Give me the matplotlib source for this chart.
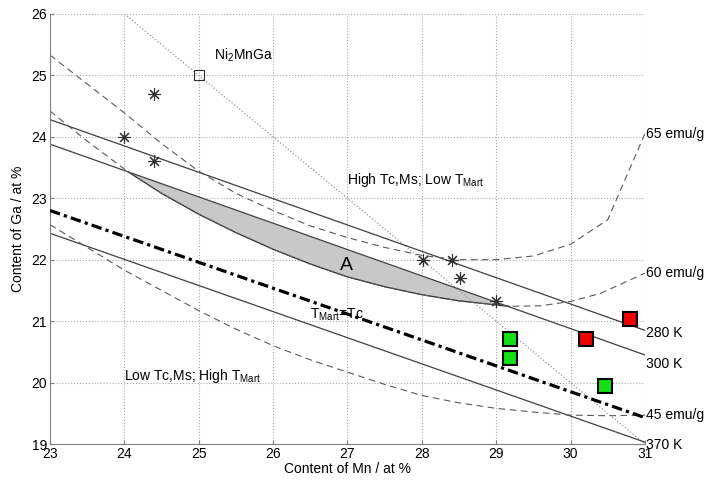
import numpy as np
import matplotlib
matplotlib.use("Agg")
import matplotlib.pyplot as plt

# straight lines (Curie / martensite temperatures), given at x = 23 and 31
line_x = [23, 31]
k280 = [24.28, 20.85]
k300 = [23.88, 20.45]
k370 = [22.43, 19.03]
tmart_tc = [22.80, 19.43]

# stoichiometric line through Ni2MnGa
stoich_x = [24, 31]
stoich_y = [26, 19]

# magnetisation contours
m65_x = [23, 23.5, 24, 24.5, 25, 25.5, 26, 26.5, 27, 27.5, 28, 28.5, 29, 29.5, 30, 30.5, 31]
m65_y = [25.33, 24.86, 24.39, 23.89, 23.44, 23.08, 22.8, 22.55, 22.36, 22.2, 22.07, 22.0, 22.0, 22.06, 22.25, 22.65, 24.05]
m60_x = [23, 23.5, 24.05, 24.5, 25, 25.5, 26, 26.5, 27, 27.5, 28, 28.5, 29.18, 29.6, 30.0, 30.4, 31]
m60_y = [24.42, 23.93, 23.43, 23.08, 22.74, 22.44, 22.17, 21.93, 21.72, 21.56, 21.43, 21.33, 21.24, 21.25, 21.32, 21.45, 21.78]
m45_x = [23, 23.5, 24, 24.5, 25, 25.5, 26, 26.5, 27, 27.5, 28, 28.5, 29, 29.5, 30, 30.5, 31]
m45_y = [22.57, 22.2, 21.83, 21.5, 21.17, 20.87, 20.6, 20.37, 20.17, 19.97, 19.79, 19.67, 19.58, 19.52, 19.47, 19.46, 19.47]

# samples
star_x = [24.4, 24.0, 24.4, 28.02, 28.4, 28.51, 29.0]
star_y = [24.7, 24.0, 23.61, 22.0, 22.0, 21.7, 21.32]
green_x = [29.19, 29.19, 30.47]
green_y = [20.71, 20.40, 19.95]
red_x = [30.21, 30.80]
red_y = [20.71, 21.03]

plt.rcParams["font.family"] = ["Liberation Sans", "DejaVu Sans"]
plt.rcParams["mathtext.fontset"] = "custom"
plt.rcParams["mathtext.rm"] = "Liberation Sans"
plt.rcParams["mathtext.it"] = "Liberation Sans"

fig = plt.figure(figsize=(7.04, 4.80), dpi=100)
ax = fig.add_axes([0.071, 0.075, 0.845, 0.896])

# region A: between 300 K line and 60 emu/g curve
m60x = np.array(m60_x)
m60y = np.array(m60_y)
sel = (m60x >= 24.05) & (m60x <= 29.18)
gx = m60x[sel]
upper = np.interp(gx, line_x, k300)
ax.fill_between(gx, m60y[sel], upper, color="#c8c8c8", lw=0, zorder=1)
ax.plot(gx, m60y[sel], color="#303030", lw=0.9, zorder=2)

ax.plot(stoich_x, stoich_y, ls=":", color="#999999", lw=0.9, zorder=2)
for ky in (k280, k300, k370):
    ax.plot(line_x, ky, color="#404040", lw=0.9, zorder=2)
for mx, my in ((m65_x, m65_y), (m60_x, m60_y), (m45_x, m45_y)):
    ax.plot(mx, my, ls=(0, (6, 4)), color="#5a5a5a", lw=0.8, zorder=2)
ax.plot(line_x, tmart_tc, color="black", lw=2.3, ls=(0, (3.3, 1.3, 1.0, 1.3)), zorder=3)

ax.plot(star_x, star_y, ls="none", marker=(8, 2, 0), ms=9, mew=0.8, color="#303030", zorder=4)
ax.plot([25], [25], ls="none", marker="s", ms=7, mfc="none", mec="#303030", mew=0.8, zorder=4)
ax.plot(green_x, green_y, ls="none", marker="s", ms=10.5, mfc="#14e014", mec="black", mew=1.5, zorder=5)
ax.plot(red_x, red_y, ls="none", marker="s", ms=10.5, mfc="#ee0000", mec="black", mew=1.5, zorder=5)

fs = 10
ax.text(25.2, 25.32, "Ni$_2$MnGa", fontsize=fs, va="center")
ax.text(27.0, 23.3, "High Tc,Ms; Low T$_{\\mathrm{Mart}}$", fontsize=fs, va="center")
ax.text(24.0, 20.1, "Low Tc,Ms; High T$_{\\mathrm{Mart}}$", fontsize=fs, va="center")
ax.text(26.99, 21.91, "A", fontsize=14, ha="center", va="center")
ax.text(26.5, 21.1, "T$_{\\mathrm{Mart}}$=Tc", fontsize=fs, va="center", zorder=6)

right_labels = ["65 emu/g", "60 emu/g", "280 K", "300 K", "45 emu/g", "370 K"]
right_y = [24.05, 21.78, 20.8, 20.3, 19.47, 18.99]
for lab, yy in zip(right_labels, right_y):
    ax.text(31.02, yy, lab, fontsize=fs, va="center", clip_on=False)

ax.set_xlim(23, 31)
ax.set_ylim(19, 26)
ax.set_xticks(range(23, 32))
ax.set_yticks(range(19, 27))
ax.grid(True, ls=":", color="#aaaaaa", lw=0.8)
ax.set_axisbelow(True)
for s in ("top", "right"):
    ax.spines[s].set_visible(False)
for s in ("left", "bottom"):
    ax.spines[s].set_color("#808080")
ax.tick_params(direction="in", length=3, color="#808080", labelsize=fs, pad=2)
ax.set_xlabel("Content of Mn / at %", fontsize=fs, labelpad=1)
ax.set_ylabel("Content of Ga / at %", fontsize=fs, labelpad=5)

fig.savefig("out.png", dpi=100)
